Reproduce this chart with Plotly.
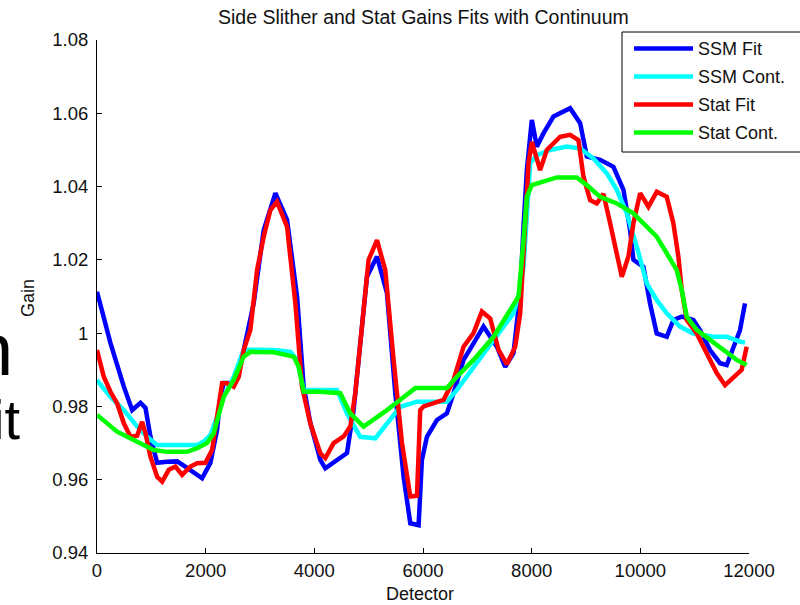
import plotly.graph_objects as go

# ---------------- data ----------------
ssm_fit_x = [0, 248, 494, 647, 800, 892, 984, 1107, 1291, 1475,
             1659, 1934, 2087, 2210, 2271, 2332, 2516, 2700, 2884, 3068,
             3283, 3498, 3682, 3804, 3926, 4110, 4202, 4417, 4601, 4723,
             4846, 4969, 5153, 5337, 5490, 5643, 5766, 5919, 5980, 6072,
             6256, 6440, 6562, 6746, 6930, 7114, 7360, 7513, 7666, 7789,
             7850, 7911, 8003, 8095, 8217, 8401, 8708, 8892, 9015, 9260,
             9505, 9689, 9812, 9873, 10057, 10179, 10302, 10486, 10608, 10762,
             10976, 11099, 11283, 11467, 11590, 11712, 11834, 11926]
ssm_fit_y = [1.0113, 0.9973, 0.9854, 0.979, 0.981, 0.9796, 0.9717, 0.9646, 0.9649, 0.965,
             0.9632, 0.9604, 0.9646, 0.9736, 0.9826, 0.9864, 0.9864, 0.9954, 1.0082, 1.0281,
             1.0382, 1.0309, 1.01, 0.9854, 0.9755, 0.9654, 0.9631, 0.9654, 0.9673, 0.979,
             0.9963, 1.0154, 1.0209, 1.0109, 0.9836, 0.9608, 0.9481, 0.9476, 0.9654, 0.9717,
             0.9763, 0.9781, 0.9836, 0.9927, 0.9972, 1.0018, 0.9963, 0.9908, 0.9946, 1.011,
             1.029, 1.0445, 1.0582, 1.0509, 1.0545, 1.0591, 1.0614, 1.0573, 1.0482, 1.0473,
             1.0454, 1.0391, 1.0281, 1.02, 1.0181, 1.0081, 0.9999, 0.999, 1.0036, 1.0045,
             1.0036, 1.0008, 0.9954, 0.9918, 0.9913, 0.9963, 1.0008, 1.0081]

ssm_cont_x = [0, 248, 494, 739, 923, 1107, 1475, 1843, 1965, 2087,
              2210, 2332, 2516, 2700, 2884, 3252, 3559, 3682, 3804, 4110,
              4417, 4601, 4846, 5122, 5337, 5582, 5889, 6440, 6624, 6930,
              7298, 7666, 7789, 7850, 7911, 7973, 8095, 8340, 8647, 8892,
              9137, 9383, 9567, 9751, 9935, 10119, 10302, 10486, 10731, 10976,
              11344, 11590, 11834, 11926]
ssm_cont_y = [0.9872, 0.9826, 0.979, 0.9745, 0.9717, 0.9695, 0.9695, 0.9695, 0.9704, 0.9722,
              0.977, 0.9826, 0.9881, 0.9954, 0.9955, 0.9954, 0.9949, 0.9927, 0.9845, 0.9845,
              0.9845, 0.9781, 0.9717, 0.9713, 0.9754, 0.9799, 0.9813, 0.9813, 0.9845, 0.9908,
              0.9981, 1.0054, 1.012, 1.018, 1.0345, 1.0464, 1.0486, 1.05, 1.0509, 1.0504,
              1.0477, 1.0436, 1.0391, 1.0327, 1.0236, 1.0136, 1.009, 1.0054, 1.0018, 0.9999,
              0.999, 0.999, 0.9977, 0.9974]

stat_fit_x = [0, 125, 248, 371, 494, 616, 739, 831, 892, 984,
              1107, 1199, 1322, 1444, 1567, 1720, 1843, 1995, 2118, 2210,
              2302, 2394, 2516, 2608, 2700, 2823, 2946, 3068, 3191, 3314,
              3498, 3651, 3773, 3926, 4110, 4202, 4355, 4540, 4662, 4754,
              4877, 4999, 5153, 5306, 5459, 5613, 5766, 5889, 5949, 6011,
              6195, 6379, 6562, 6746, 6930, 7084, 7237, 7391, 7544, 7697,
              7789, 7850, 7942, 8003, 8156, 8279, 8524, 8708, 8861, 8953,
              9076, 9199, 9321, 9444, 9567, 9659, 9781, 9873, 9996, 10149,
              10302, 10486, 10608, 10700, 10762, 10854, 11038, 11222, 11406, 11559,
              11712, 11865, 11957]
stat_fit_y = [0.9954, 0.9881, 0.984, 0.9808, 0.9754, 0.9717, 0.972, 0.9758, 0.9727, 0.9663,
              0.9608, 0.9595, 0.9627, 0.9636, 0.9613, 0.9636, 0.9645, 0.9646, 0.9681, 0.9772,
              0.9863, 0.9863, 0.9854, 0.988, 0.9954, 1.0009, 1.0172, 1.0263, 1.0336, 1.0359,
              1.029, 1.0081, 0.9854, 0.9754, 0.9672, 0.9659, 0.97, 0.9718, 0.9745, 0.9836,
              1.0018, 1.02, 1.0254, 1.0172, 0.9927, 0.97, 0.9554, 0.9556, 0.979, 0.98,
              0.9809, 0.9818, 0.9872, 0.9963, 1.0, 1.0059, 1.004, 0.9954, 0.9915, 0.9963,
              1.0054, 1.0209, 1.0464, 1.0522, 1.0445, 1.05, 1.0536, 1.0541, 1.0527, 1.0427,
              1.0363, 1.0354, 1.038, 1.03, 1.0209, 1.0154, 1.0209, 1.03, 1.0382, 1.0345,
              1.0386, 1.0372, 1.03, 1.0209, 1.0118, 1.0036, 0.9999, 0.9945, 0.9891, 0.9858,
              0.9881, 0.99, 0.9963]

stat_cont_x = [0, 187, 371, 555, 800, 1045, 1291, 1659, 1843, 2026,
               2148, 2240, 2332, 2516, 2700, 2823, 3252, 3620, 3712, 3804,
               4110, 4478, 4662, 4907, 5091, 5337, 5582, 5857, 6440, 6624,
               6930, 7298, 7605, 7758, 7850, 7911, 8003, 8217, 8463, 8831,
               9015, 9260, 9567, 9873, 10119, 10302, 10486, 10670, 10762, 10854,
               11038, 11283, 11528, 11773, 11957]
stat_cont_y = [0.9777, 0.9754, 0.9731, 0.9717, 0.97, 0.9681, 0.9676, 0.9676, 0.9686, 0.97,
               0.9727, 0.9781, 0.9826, 0.9872, 0.9936, 0.9949, 0.9948, 0.9936, 0.9908, 0.984,
               0.984, 0.9836, 0.9781, 0.9745, 0.9763, 0.979, 0.9818, 0.985, 0.985, 0.9881,
               0.9927, 0.999, 1.0063, 1.01, 1.0254, 1.0372, 1.0404, 1.0413, 1.0425, 1.0425,
               1.0404, 1.0372, 1.0354, 1.0327, 1.029, 1.0263, 1.0218, 1.0172, 1.0118, 1.0045,
               1.0009, 0.9981, 0.9954, 0.9927, 0.9913]

series_names = ["SSM Fit", "SSM Cont.", "Stat Fit", "Stat Cont."]
series_colors = ["#0000ff", "#00ffff", "#ff0000", "#00ff00"]

x_tick_vals = [0, 2000, 4000, 6000, 8000, 10000, 12000]
x_tick_text = ["0", "2000", "4000", "6000", "8000", "10000", "12000"]
y_tick_vals = [0.94, 0.96, 0.98, 1.0, 1.02, 1.04, 1.06, 1.08]
y_tick_text = ["0.94", "0.96", "0.98", "1", "1.02", "1.04", "1.06", "1.08"]

title_text = "Side Slither and Stat Gains Fits with Continuum"
x_label = "Detector"
y_label = "Gain"

# ---------------- layout geometry (pixels) ----------------
W_FIG, H_FIG = 800, 605
L, R, T, B = 97, 51, 40, 52
PW = W_FIG - L - R
PH = H_FIG - T - B


def px(xp):
    return (xp - L) / PW


def py(yp):
    return (T + PH - yp) / PH


FONT = "Liberation Sans, Arial, Helvetica, sans-serif"
LW = 4.5

fig = go.Figure()
all_x = [ssm_fit_x, ssm_cont_x, stat_fit_x, stat_cont_x]
all_y = [ssm_fit_y, ssm_cont_y, stat_fit_y, stat_cont_y]
for xs, ys, name, col in zip(all_x, all_y, series_names, series_colors):
    fig.add_trace(go.Scatter(x=xs, y=ys, mode="lines", name=name,
                             line=dict(color=col, width=LW), showlegend=False))

axis_common = dict(showline=True, linecolor="black", linewidth=1, mirror=False,
                   ticks="inside", ticklen=5, tickwidth=1, tickcolor="black",
                   showgrid=False, zeroline=False,
                   tickfont=dict(family=FONT, size=18.5, color="#111111"))

fig.update_xaxes(range=[0, 12000], tickmode="array", tickvals=x_tick_vals,
                 ticktext=x_tick_text, ticklabelstandoff=1, **axis_common)
fig.update_yaxes(range=[0.94, 1.08], tickmode="array", tickvals=y_tick_vals,
                 ticktext=y_tick_text, ticklabelstandoff=4, **axis_common)

annotations = [
    dict(text=title_text, x=0.5, y=py(17), xref="paper", yref="paper",
         showarrow=False, xanchor="center", yanchor="middle",
         font=dict(family=FONT, size=19.5, color="#111111")),
    dict(text=x_label, x=px(420), y=py(594), xref="paper", yref="paper",
         showarrow=False, xanchor="center", yanchor="middle",
         font=dict(family=FONT, size=18, color="#111111")),
    dict(text=y_label, x=px(28), y=py(298), xref="paper", yref="paper",
         showarrow=False, xanchor="center", yanchor="middle", textangle=-90,
         font=dict(family=FONT, size=18, color="#111111")),
    dict(text="n", x=px(15), y=py(349), xref="paper", yref="paper",
         showarrow=False, xanchor="right", yanchor="middle",
         font=dict(family=FONT, size=74, color="black")),
    dict(text="it", x=px(22), y=py(419), xref="paper", yref="paper",
         showarrow=False, xanchor="right", yanchor="middle",
         font=dict(family=FONT, size=56, color="black")),
]

shapes = [
    dict(type="rect", xref="paper", yref="paper",
         x0=px(622), x1=px(808), y0=py(152), y1=py(32),
         line=dict(color="black", width=1), fillcolor="white", layer="above"),
]

legend_rows = [48.5, 76.5, 104.5, 132.5]
for name, col, yr in zip(series_names, series_colors, legend_rows):
    shapes.append(dict(type="line", xref="paper", yref="paper",
                       x0=px(634), x1=px(693), y0=py(yr), y1=py(yr),
                       line=dict(color=col, width=LW), layer="above"))
    annotations.append(dict(text=name, x=px(696), y=py(yr), xref="paper", yref="paper",
                            showarrow=False, xanchor="left", yanchor="middle",
                            font=dict(family=FONT, size=18, color="#111111")))

fig.update_layout(width=W_FIG, height=H_FIG,
                  margin=dict(l=L, r=R, t=T, b=B, pad=0),
                  paper_bgcolor="white", plot_bgcolor="white",
                  showlegend=False, annotations=annotations, shapes=shapes)

fig.write_html("out.html")
